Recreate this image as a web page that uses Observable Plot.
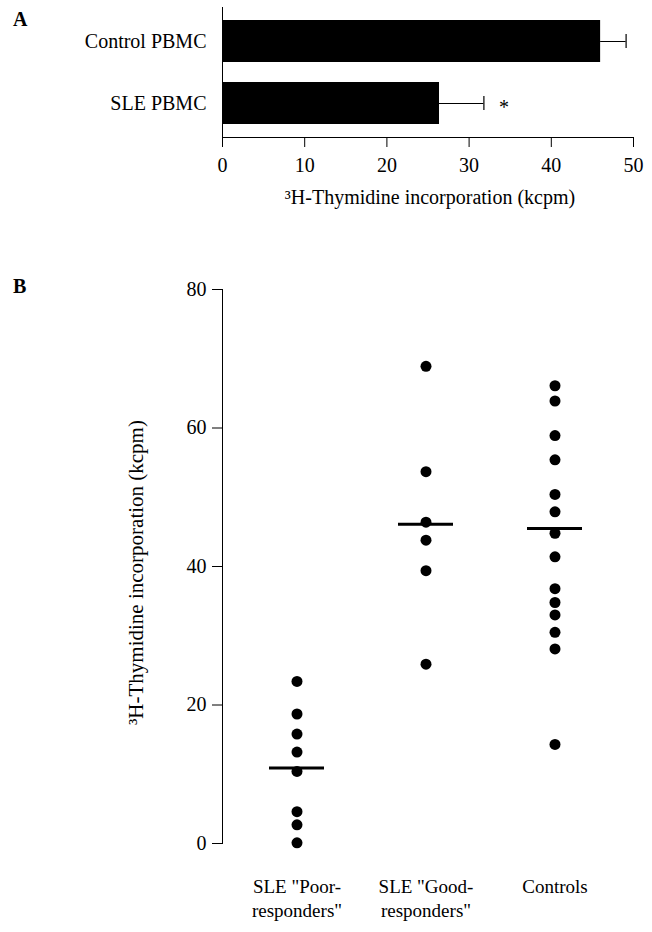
<!DOCTYPE html>
<html><head><meta charset="utf-8">
<script src="https://cdn.jsdelivr.net/npm/d3@7"></script>
<script src="https://cdn.jsdelivr.net/npm/@observablehq/plot@0.6"></script>
<style>
body{margin:0;background:#fff;width:652px;height:932px;position:relative;overflow:hidden;font-family:"Liberation Serif","Times New Roman",serif;color:#000;}
.panel{position:absolute;left:0;z-index:1;}
.letter{position:absolute;font-weight:bold;font-size:20px;line-height:1;z-index:5;font-family:"Liberation Serif",serif;}
svg, svg text{font-family:"Liberation Serif","Times New Roman",serif !important;}
</style></head><body>
<div id="a" class="panel" style="top:0"></div>
<div id="b" class="panel" style="top:240px"></div>
<div class="letter" style="left:13px;top:9px">A</div>
<div class="letter" style="left:13px;top:276px">B</div>
<script>
// Panel A
const groupsA = ["Control PBMC", "SLE PBMC"];
const meansA = [46.0, 26.4];
const errorsA = [3.1, 5.4];
const ticksA = [0, 10, 20, 30, 40, 50];
const axisTitle = "³H-Thymidine incorporation (kcpm)";

// Panel B
const groupsB = ['SLE "Poor-\nresponders"', 'SLE "Good-\nresponders"', "Controls"];
const poor = [23.4, 18.7, 15.8, 13.2, 10.4, 4.6, 2.7, 0.1];
const good = [68.9, 53.7, 46.4, 43.8, 39.4, 25.9];
const controls = [66.1, 63.9, 58.9, 55.4, 50.4, 47.9, 44.8, 41.4, 36.8, 34.8, 33.0, 30.5, 28.1, 14.3];
const centerLines = [10.9, 46.1, 45.5];
const ticksB = [0, 20, 40, 60, 80];

const font = {fontFamily: "'Liberation Serif', 'Times New Roman', serif", fontSize: "20px", color: "#000", background: "#fff"};

const dataA = groupsA.map((g, i) => ({group: g, mean: meansA[i], hi: meansA[i] + errorsA[i]}));

const plotA = Plot.plot({
  width: 652, height: 240,
  marginLeft: 222, marginRight: 19, marginTop: 7, marginBottom: 103,
  style: font,
  x: {domain: [0, 50]},
  y: {domain: groupsA, paddingInner: 0.32, paddingOuter: 0.2},
  marks: [
    Plot.barX(dataA, {y: "group", x: "mean", fill: "#000"}),
    Plot.ruleY(dataA, {y: "group", x1: "mean", x2: "hi", stroke: "#000", strokeWidth: 1}),
    Plot.tickX(dataA, {y: "group", x: "hi", stroke: "#000", strokeWidth: 1.2, insetTop: 14, insetBottom: 14}),
    Plot.text(dataA.filter(d => d.group === "SLE PBMC"), {y: "group", x: "hi", text: () => "*", dx: 20, dy: 4, fontSize: 20}),
    Plot.frame({anchor: "left", stroke: "#000"}),
    Plot.frame({anchor: "bottom", stroke: "#000"}),
    Plot.axisX({ticks: ticksA, tickSize: 10, tickPadding: 10, label: null, fontSize: 20}),
    Plot.axisY({tickSize: 0, tickPadding: 16, label: null, fontSize: 20}),
    Plot.text([axisTitle], {frameAnchor: "bottom", dy: 66, dx: 2, fontSize: 20, fill: "#000"})
  ]
});
document.getElementById("a").append(plotA);

const pts = [
  ...poor.map(v => ({g: groupsB[0], v})),
  ...good.map(v => ({g: groupsB[1], v})),
  ...controls.map(v => ({g: groupsB[2], v}))
];
const lineData = groupsB.map((g, i) => ({g, v: centerLines[i]}));

const plotB = Plot.plot({
  width: 652, height: 692,
  marginLeft: 222, marginRight: 0, marginTop: 49, marginBottom: 89,
  style: font,
  x: {domain: groupsB, range: [268.5, 581.5], paddingInner: 0.574, paddingOuter: 0},
  y: {domain: [0, 80]},
  marks: [
    Plot.frame({anchor: "left", stroke: "#000"}),
    Plot.dot(pts, {x: "g", y: "v", r: 5.5, fill: "#000", stroke: "none"}),
    Plot.tickY(lineData, {x: "g", y: "v", stroke: "#000", strokeWidth: 3}),
    Plot.axisY({ticks: ticksB, tickSize: 10, tickPadding: 6, label: null, fontSize: 20}),
    Plot.axisX({tickSize: 0, tickPadding: 33, label: null, fontSize: 19, lineHeight: 1.25}),
    Plot.text([axisTitle], {frameAnchor: "left", textAnchor: "middle", dx: -86, dy: 6, rotate: -90, fontSize: 21, fill: "#000"})
  ]
});
document.getElementById("b").append(plotB);
</script>
</body></html>
